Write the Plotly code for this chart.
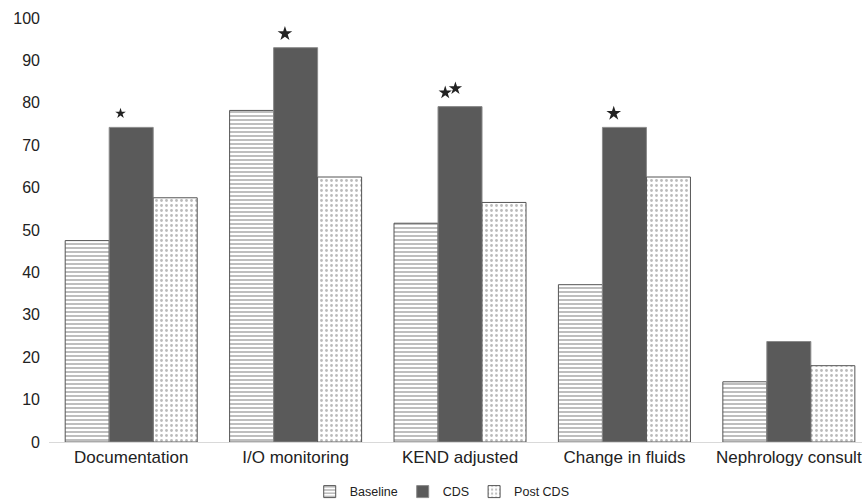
import plotly.graph_objects as go

categories = ["Documentation", "I/O monitoring", "KEND adjusted", "Change in fluids", "Nephrology consult"]
baseline = [47.5, 78.2, 51.6, 37.1, 14.2]
cds = [74.2, 93.0, 79.1, 74.2, 23.7]
post_cds = [57.6, 62.5, 56.5, 62.5, 18.0]
y_ticks = [0, 10, 20, 30, 40, 50, 60, 70, 80, 90, 100]
# significance stars above CDS bars: (category index, number of stars, star size)
stars = [(0, 1, 8), (1, 1, 11), (2, 2, 10), (3, 1, 11)]

xs = list(range(len(categories)))
fig = go.Figure()
fig.add_trace(go.Bar(
    x=xs, y=baseline, name="Baseline",
    marker=dict(color="white", line=dict(color="#555555", width=1),
                pattern=dict(shape="-", fgcolor="#444444", bgcolor="white", size=4, solidity=0.35)),
))
fig.add_trace(go.Bar(
    x=xs, y=cds, name="CDS",
    marker=dict(color="#5a5a5a", line=dict(color="#8a8a8a", width=1)),
))
fig.add_trace(go.Bar(
    x=xs, y=post_cds, name="Post CDS",
    marker=dict(color="white", line=dict(color="#555555", width=1),
                pattern=dict(shape=".", fgcolor="#777777", bgcolor="white", size=5, solidity=0.25)),
))

# stars
sx, sy, ss = [], [], []
for idx, n, size in stars:
    for k in range(n):
        if n == 1:
            sx.append(idx - 0.065)
            sy.append(cds[idx] + 3.3)
        else:
            sx.append(idx - 0.09 + k * 0.062)
            sy.append(cds[idx] + 3.3 + k * 1.0)
        ss.append(size)
fig.add_trace(go.Scatter(
    x=sx, y=sy, mode="markers", showlegend=False, hoverinfo="skip",
    marker=dict(symbol="star", size=ss, color="#222222", opacity=1, line=dict(width=0)),
))

fig.update_layout(
    width=862, height=501,
    margin=dict(l=49, r=0, t=18, b=58.5, autoexpand=False),
    paper_bgcolor="white", plot_bgcolor="white",
    barmode="group", bargap=0.197, bargroupgap=0,
    font=dict(family="Liberation Sans, Arial, sans-serif", color="#222222"),
    legend=dict(orientation="h", xref="container", yref="container",
                x=0.513, xanchor="center", y=0.018, yanchor="middle",
                font=dict(size=12.5), itemwidth=30, tracegroupgap=0),
)
fig.update_xaxes(
    range=[-0.5, 4.445], tickvals=xs, ticktext=categories,
    tickfont=dict(size=17), showgrid=False, zeroline=False,
    showline=True, linecolor="#d9d9d9", linewidth=1, ticks="",
)
fig.update_yaxes(
    range=[0, 100], tickvals=y_ticks, tickfont=dict(size=16),
    showgrid=False, zeroline=False, showline=False, ticks="", ticklabelstandoff=8,
)
fig.write_html(
    "out.html",
    config={"displayModeBar": False},
    post_script="document.body.style.margin='0';document.body.style.overflow='hidden';",
)
